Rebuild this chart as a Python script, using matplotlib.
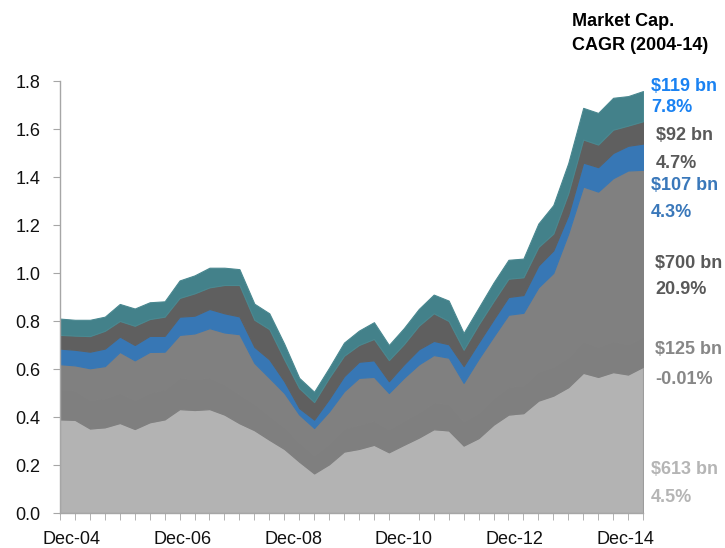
import numpy as np
import matplotlib
matplotlib.use('Agg')
import matplotlib.pyplot as plt
from matplotlib.ticker import FormatStrFormatter

plt.rcParams['font.family'] = ['Liberation Sans', 'DejaVu Sans']

# quarterly market cap by group, $ trillion
quarters = np.arange(40)

mcap_613 = [0.390, 0.388, 0.352, 0.357, 0.375, 0.350, 0.378, 0.390, 0.433, 0.429,
            0.433, 0.410, 0.374, 0.345, 0.305, 0.267, 0.214, 0.165, 0.203, 0.256,
            0.267, 0.284, 0.253, 0.284, 0.314, 0.349, 0.344, 0.281, 0.312, 0.368,
            0.410, 0.416, 0.468, 0.489, 0.524, 0.584, 0.567, 0.587, 0.577, 0.609]
mcap_125 = [0.125, 0.122, 0.118, 0.120, 0.125, 0.120, 0.122, 0.124, 0.130, 0.128,
            0.130, 0.126, 0.120, 0.110, 0.100, 0.090, 0.080, 0.075, 0.085, 0.095,
            0.100, 0.100, 0.095, 0.100, 0.105, 0.110, 0.110, 0.100, 0.105, 0.110,
            0.115, 0.115, 0.120, 0.120, 0.125, 0.130, 0.125, 0.128, 0.125, 0.125]
mcap_700 = [0.105, 0.105, 0.133, 0.135, 0.171, 0.166, 0.171, 0.158, 0.179, 0.191,
            0.207, 0.216, 0.251, 0.170, 0.158, 0.143, 0.116, 0.114, 0.135, 0.156,
            0.196, 0.183, 0.152, 0.179, 0.200, 0.199, 0.193, 0.161, 0.225, 0.257,
            0.301, 0.303, 0.352, 0.391, 0.515, 0.646, 0.647, 0.680, 0.725, 0.696]
mcap_107 = [0.065, 0.065, 0.069, 0.073, 0.064, 0.064, 0.067, 0.066, 0.076, 0.074,
            0.080, 0.080, 0.074, 0.067, 0.077, 0.049, 0.027, 0.035, 0.052, 0.063,
            0.067, 0.069, 0.049, 0.056, 0.063, 0.059, 0.056, 0.070, 0.068, 0.071,
            0.074, 0.074, 0.091, 0.094, 0.077, 0.100, 0.102, 0.105, 0.103, 0.109]
mcap_92 = [0.057, 0.059, 0.065, 0.074, 0.065, 0.080, 0.070, 0.080, 0.078, 0.093,
           0.090, 0.118, 0.131, 0.113, 0.126, 0.091, 0.083, 0.073, 0.088, 0.085,
           0.070, 0.089, 0.088, 0.084, 0.098, 0.115, 0.097, 0.068, 0.075, 0.076,
           0.076, 0.074, 0.077, 0.070, 0.091, 0.096, 0.094, 0.097, 0.084, 0.093]
mcap_119 = [0.068, 0.066, 0.068, 0.059, 0.071, 0.072, 0.070, 0.064, 0.073, 0.075,
            0.082, 0.072, 0.066, 0.067, 0.066, 0.065, 0.043, 0.043, 0.042, 0.055,
            0.060, 0.070, 0.063, 0.067, 0.070, 0.078, 0.085, 0.070, 0.070, 0.078,
            0.079, 0.078, 0.098, 0.119, 0.126, 0.132, 0.132, 0.133, 0.123, 0.126]

year_labels = ['Dec-04', 'Dec-06', 'Dec-08', 'Dec-10', 'Dec-12', 'Dec-14']

# right hand annotations, top to bottom
side_caps = ['$119 bn', '$92 bn', '$107 bn', '$700 bn', '$125 bn', '$613 bn']
side_cagr = ['7.8%', '4.7%', '4.3%', '20.9%', '-0.01%', '4.5%']

fills = ['#b3b3b3', '#7f7f7f', '#808080', '#3777b5', '#5f5f5f', '#43818a']
edges = ['#9c9c9c', '#7f7f7f', '#808080', '#3777b5', '#5f5f5f', '#4a8890']
text_cols = ['#1a82f2', '#595959', '#3a78ba', '#595959', '#878787', '#b5b5b5']

W, H = 725, 548
fig = plt.figure(figsize=(W / 100, H / 100), dpi=100)
ax = fig.add_axes([60 / W, 1 - 513 / H, 583 / W, (513 - 81) / H])

polys = ax.stackplot(quarters, mcap_613, mcap_125, mcap_700, mcap_107, mcap_92, mcap_119,
                     colors=fills)
for p, ec in zip(polys, edges):
    p.set_edgecolor(ec)
    p.set_linewidth(0.8)

ax.set_xlim(0, 39)
ax.set_ylim(0, 1.8)
ax.set_yticks(np.arange(0, 1.81, 0.2))
ax.yaxis.set_major_formatter(FormatStrFormatter('%.1f'))

# labels sit every 8 quarters, slightly off the tick marks as in the source
ax.set_xticks([0.8 + 7.4 * k for k in range(6)])
ax.set_xticklabels(year_labels)
ax.set_xticks(quarters, minor=True)

for s in ['top', 'right']:
    ax.spines[s].set_visible(False)
for s in ['left', 'bottom']:
    ax.spines[s].set_color('#a6a6a6')
    ax.spines[s].set_linewidth(1.0)

ax.tick_params(axis='y', direction='out', length=5, color='#a6a6a6',
               labelsize=13, pad=9, labelcolor='#111111')
ax.tick_params(axis='x', which='major', length=0, labelsize=13, pad=13,
               labelcolor='#111111')
ax.tick_params(axis='x', which='minor', direction='out', length=5, color='#a6a6a6')

fig.text(572 / W, 1 - 22 / H, 'Market Cap.', fontsize=13, fontweight='bold',
         va='center', ha='left', color='#000000')
fig.text(572 / W, 1 - 45 / H, 'CAGR (2004-14)', fontsize=13, fontweight='bold',
         va='center', ha='left', color='#000000')

cap_y = [87, 135, 186, 263, 350, 470]
cagr_y = [108, 163, 213, 290, 379, 498]
text_x = [651, 656, 651, 655, 655, 651]
for cap, cagr, col, y1, y2, x in zip(side_caps, side_cagr, text_cols, cap_y, cagr_y, text_x):
    fig.text(x / W, 1 - y1 / H, cap, fontsize=13, fontweight='bold', color=col,
             va='center', ha='left')
    fig.text(x / W, 1 - y2 / H, cagr, fontsize=13, fontweight='bold', color=col,
             va='center', ha='left')

fig.savefig('out.png', dpi=100)
